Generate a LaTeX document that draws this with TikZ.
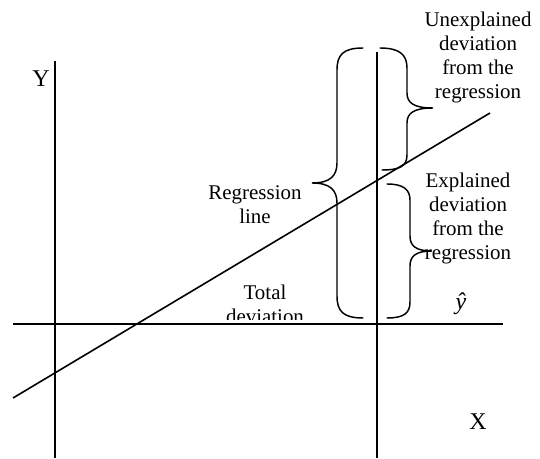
\documentclass[tikz,border=0pt]{standalone}
\usepackage{fontspec}
\setmainfont{Liberation Serif}

\tikzset{
  eje/.style={line width=1.2pt},
  llave/.style={line width=1.1pt, line cap=round},
  rotulo/.style={inner sep=0pt, align=center, font=\fontsize{15.7}{18}\selectfont},
  rotuloeje/.style={inner sep=0pt, font=\fontsize{18}{20}\selectfont}
}

\begin{document}
\begin{tikzpicture}[x=0.75pt, y=-0.75pt]

  \useasboundingbox (0,0) rectangle (540,459);

  % --- Puntos de los ejes ---
  \coordinate (yArriba) at (55,61);
  \coordinate (yAbajo)  at (55,458);
  \coordinate (hIzq)    at (13,324);
  \coordinate (hDer)    at (503,324);
  \coordinate (vArriba) at (377,52);
  \coordinate (vAbajo)  at (377,458);
  \coordinate (rIzq)    at (13,398);
  \coordinate (rDer)    at (490,113);

  % --- Ejes y recta horizontal ---
  \draw[eje] (yArriba) -- (yAbajo);
  \draw[eje] (hIzq) -- (hDer);
  \draw[eje] (vArriba) -- (vAbajo);

  % --- Recta de regresión ---
  \draw[eje] (rIzq) -- (rDer);

  % --- Llave de la desviación total ---
  \draw[llave] (363,48) .. controls (343,48) and (337,55) .. (337,70)
        -- (337,163) .. controls (337,176) and (330,183) .. (312,183)
        .. controls (330,183) and (337,190) .. (337,203)
        -- (337,296) .. controls (337,311) and (343,318) .. (363,318);

  % --- Llave de la desviación no explicada ---
  \draw[llave] (380,48) .. controls (400,48) and (407,55) .. (407,68)
        -- (407,93) .. controls (407,103) and (414,108) .. (433,108)
        .. controls (414,108) and (407,113) .. (407,123)
        -- (407,155) .. controls (407,166) and (400,170) .. (382,170);

  % --- Llave de la desviación explicada ---
  \draw[llave] (387,184) .. controls (404,184) and (410,190) .. (410,200)
        -- (410,236) .. controls (410,246) and (416,251) .. (432,251)
        .. controls (416,251) and (410,256) .. (410,266)
        -- (410,302) .. controls (410,313) and (404,318) .. (387,318);

  % --- Rótulos ---
  \node[rotulo] (noExpl) at (478,58)
        {Unexplained\\deviation\\from the\\regression};
  \node[rotulo] (expl) at (468,219)
        {Explained\\deviation\\from the\\regression};
  \node[rotulo] (recta) at (255,205) {Regression\\line};
  \begin{scope}
    \clip (200,270) rectangle (330,319.5);
    \node[rotulo] (total) at (265,304) {Total\\deviation};
  \end{scope}
  \node[rotuloeje] (yGorro) at (461,304) {\itshape ŷ};

  % --- Nombres de los ejes ---
  \node[rotuloeje] (nomY) at (41,79) {Y};
  \node[rotuloeje] (nomX) at (478,422) {X};

\end{tikzpicture}
\end{document}
